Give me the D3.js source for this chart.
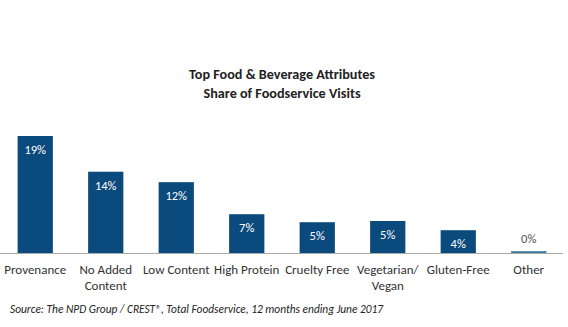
<!DOCTYPE html>
<html>
<head>
<meta charset="utf-8">
<script src="https://cdn.jsdelivr.net/npm/d3@7"></script>
<style>
  body { margin: 0; background: #fff; }
  svg { display: block; }
</style>
</head>
<body>
<div id="container"></div>
<script>
// data
const categories = ["Provenance", "No Added Content", "Low Content", "High Protein",
  "Cruelty Free", "Vegetarian/ Vegan", "Gluten-Free", "Other"];
const values = [19, 13.2, 11.5, 6.3, 5.0, 5.2, 3.7, 0.3];
const valueLabels = ["19%", "14%", "12%", "7%", "5%", "5%", "4%", "0%"];
const titleLines = ["Top Food & Beverage Attributes", "Share of Foodservice Visits"];
const source = "Source: The NPD Group / CREST\u00ae, Total Foodservice, 12 months ending June 2017";

const width = 568, height = 327;
const font = "Carlito, Calibri, 'Open Sans', sans-serif";

const svg = d3.select("#container")
  .append("svg")
  .attr("width", width)
  .attr("height", height);

const x = d3.scaleBand()
  .domain(categories)
  .range([0, 564])
  .paddingInner(0.5)
  .paddingOuter(0.25);

const y = d3.scaleLinear()
  .domain([0, 19])
  .range([253, 136]);

// title
svg.append("g")
  .attr("id", "title")
  .selectAll("text")
  .data(titleLines)
  .enter()
  .append("text")
  .attr("x", 282)
  .attr("y", (d, i) => 79 + i * 19)
  .attr("text-anchor", "middle")
  .attr("font-family", font)
  .attr("font-weight", "bold")
  .attr("font-size", "14.2px")
  .attr("fill", "#222")
  .text(d => d);

// bars
svg.append("g")
  .selectAll("rect")
  .data(values)
  .enter()
  .append("rect")
  .attr("x", (d, i) => x(categories[i]))
  .attr("y", d => y(d))
  .attr("width", x.bandwidth())
  .attr("height", d => y(0) - y(d))
  .attr("fill", (d, i) => i === values.length - 1 ? "#3d7c9c" : "#0b4a7c");

// value labels
svg.append("g")
  .selectAll("text")
  .data(values)
  .enter()
  .append("text")
  .attr("x", (d, i) => x(categories[i]) + x.bandwidth() / 2)
  .attr("y", d => y(d) < 240 ? y(d) + 18 : y(d) - 8)
  .attr("text-anchor", "middle")
  .attr("font-family", font)
  .attr("font-size", "12.5px")
  .attr("fill", d => y(d) < 240 ? "#fff" : "#555")
  .text((d, i) => valueLabels[i]);

// baseline
const xAxis = svg.append("g")
  .attr("transform", `translate(0,${y(0)})`)
  .call(d3.axisBottom(x).tickSize(0).tickPadding(12));

xAxis.select(".domain")
  .attr("d", "M0,0.5H563")
  .attr("stroke", "#aaa");

xAxis.selectAll(".tick text")
  .attr("font-family", font)
  .attr("font-size", "13px")
  .attr("fill", "#333")
  .each(function(d) {
    const t = d3.select(this);
    const parts = d === "No Added Content" ? ["No Added", "Content"]
      : d === "Vegetarian/ Vegan" ? ["Vegetarian/", "Vegan"] : [d];
    if (parts.length > 1) {
      t.text(null);
      parts.forEach((p, i) => {
        t.append("tspan").attr("x", 0).attr("dy", i === 0 ? "0.71em" : "1.2em").text(p);
      });
      t.attr("dy", null);
    }
  });

// source note
svg.append("text")
  .attr("x", 10)
  .attr("y", 313)
  .attr("font-family", font)
  .attr("font-style", "italic")
  .attr("font-size", "11.4px")
  .attr("fill", "#222")
  .text(source);
</script>
</body>
</html>
